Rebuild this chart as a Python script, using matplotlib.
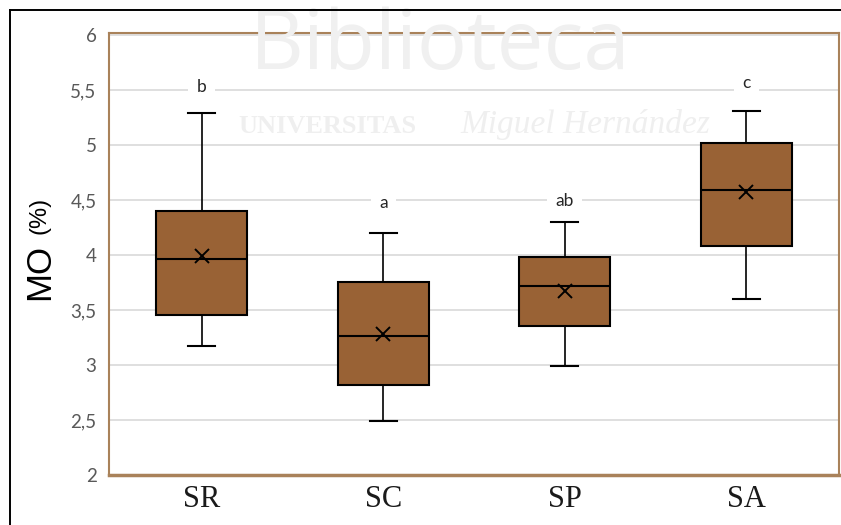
import matplotlib
matplotlib.use("Agg")
import matplotlib.pyplot as plt
from matplotlib.lines import Line2D

categories = ["SR", "SC", "SP", "SA"]
q1 = [3.45, 2.82, 3.35, 4.08]
medians = [3.96, 3.26, 3.72, 4.59]
q3 = [4.40, 3.75, 3.98, 5.02]
whisker_low = [3.17, 2.49, 2.99, 3.60]
whisker_high = [5.29, 4.20, 4.30, 5.31]
means = [3.99, 3.28, 3.67, 4.57]
letters = ["b", "a", "ab", "c"]
letter_y = [5.48, 4.43, 4.445, 5.52]
yticks = [2, 2.5, 3, 3.5, 4, 4.5, 5, 5.5, 6]
ytick_labels = ["2", "2,5", "3", "3,5", "4", "4,5", "5", "5,5", "6"]

fig = plt.figure(figsize=(8.41, 5.25), dpi=100)
W, H = 841, 525

# watermark (faint)
fig.text(250 / W, 1 - 69 / H, "Biblioteca", fontsize=60, color="#f0f0f0",
         family="Open Sans", ha="left", va="baseline", zorder=0)
fig.text(238 / W, 1 - 133 / H, "UNIVERSITAS", fontsize=19, color="#efefef",
         family="Liberation Serif", fontweight="bold", ha="left", va="baseline", zorder=0)
fig.text(460 / W, 1 - 133 / H, "Miguel Hernández", fontsize=24, color="#efefef",
         family="Liberation Serif", style="italic", ha="left", va="baseline", zorder=0)

ax = fig.add_axes([109 / W, 1 - 475 / H, (839 - 109) / W, (475 - 33) / H])
ax.set_facecolor("none")

stats = []
for i, c in enumerate(categories):
    stats.append(dict(label=c, q1=q1[i], med=medians[i], q3=q3[i],
                      whislo=whisker_low[i], whishi=whisker_high[i],
                      mean=means[i], fliers=[]))

ax.bxp(stats, positions=range(len(categories)), widths=0.5, capwidths=0.15,
       showmeans=True, patch_artist=True, manage_ticks=False,
       boxprops=dict(facecolor="#996235", edgecolor="black", linewidth=1.5),
       medianprops=dict(color="black", linewidth=1.5),
       whiskerprops=dict(color="black", linewidth=1.2),
       capprops=dict(color="black", linewidth=1.5),
       meanprops=dict(marker="x", markeredgecolor="black", markerfacecolor="black",
                      markersize=10, markeredgewidth=1.4))

for i, (lab, yv) in enumerate(zip(letters, letter_y)):
    ax.text(i, yv, lab, ha="center", va="baseline", fontsize=12.5, color="#262626",
            family="Lato", zorder=5,
            bbox=dict(facecolor="white", edgecolor="none", pad=6))

ax.set_xlim(-0.51, 3.51)
ax.set_ylim(2, 6.018)
ax.set_yticks(yticks)
ax.set_yticklabels(ytick_labels, family="Lato", fontsize=13.5, color="#595959")
ax.set_xticks(range(len(categories)))
ax.set_xticklabels(categories, family="Liberation Serif", fontsize=22, color="#1a1a1a")
ax.tick_params(axis="y", length=0, pad=9)
ax.tick_params(axis="x", length=0, pad=7)
ax.yaxis.grid(True, color="#d9d9d9", linewidth=1.2, zorder=0)
ax.set_axisbelow(True)
for s in ax.spines.values():
    s.set_color("#a9825a")
    s.set_linewidth(1.5)
ax.spines["bottom"].set_linewidth(2.5)

# y-axis label
fig.text(40 / W, 1 - 300 / H, "MO", fontsize=25, family="Liberation Sans",
         rotation=90, rotation_mode="anchor", ha="left", va="center", color="black")
fig.text(40 / W, 1 - 234 / H, "(%)", fontsize=17, family="Liberation Sans",
         rotation=90, rotation_mode="anchor", ha="left", va="center", color="black")

# outer black frame
fig.add_artist(Line2D([10 / W, 10 / W], [0, 1 - 10 / H], color="black", linewidth=1.4,
                      transform=fig.transFigure))
fig.add_artist(Line2D([10 / W, 1], [1 - 10 / H, 1 - 10 / H], color="black", linewidth=1.4,
                      transform=fig.transFigure))

fig.savefig("out.png", dpi=100, facecolor="white")
